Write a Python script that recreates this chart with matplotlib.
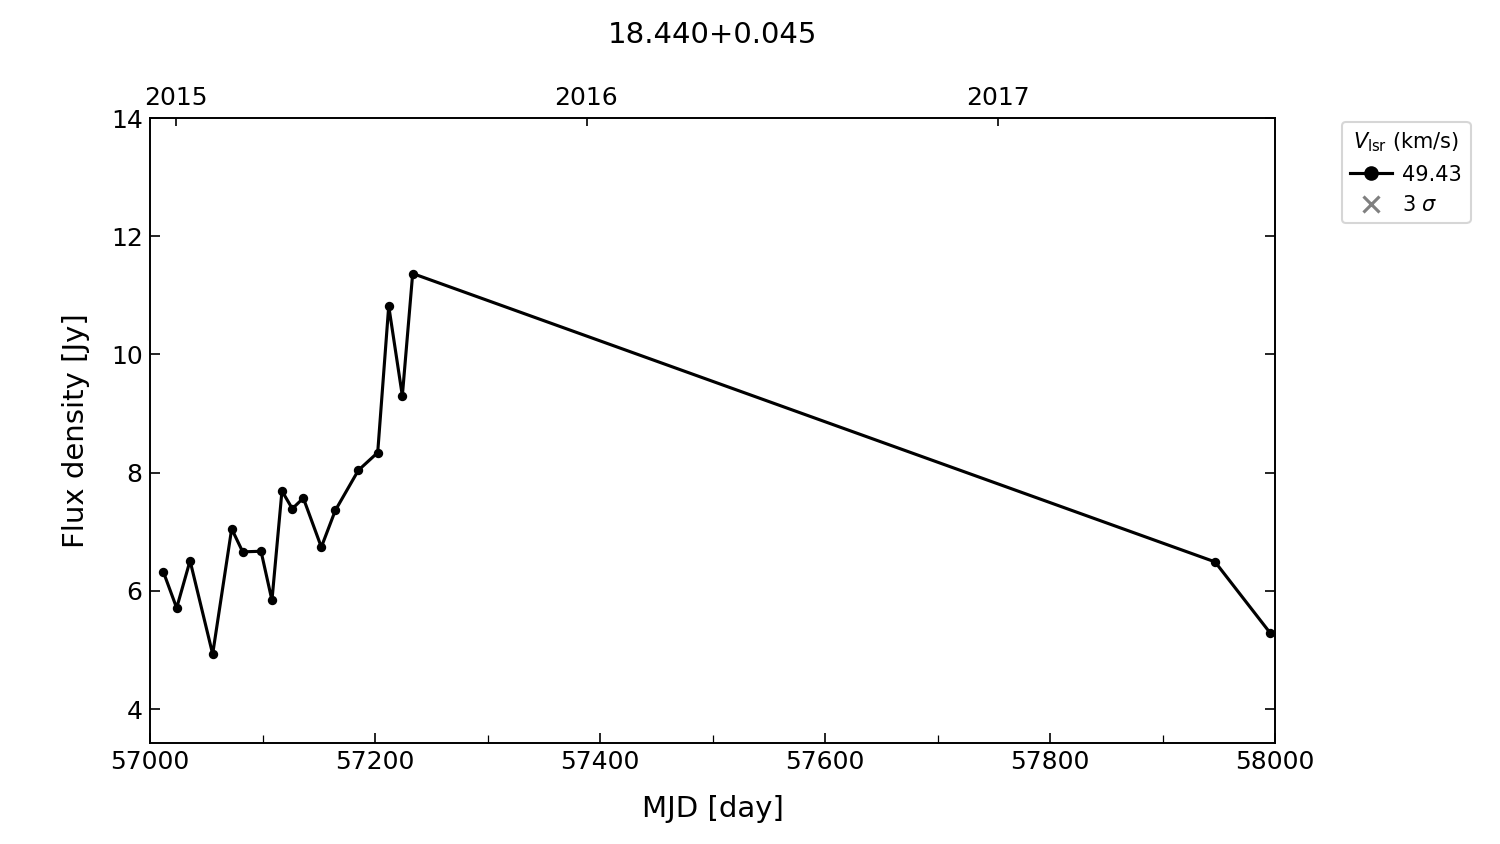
import matplotlib
matplotlib.use("Agg")
import matplotlib.pyplot as plt
from matplotlib.lines import Line2D

title = "18.440+0.045"
mjd = [57011.9, 57023.7, 57035.6, 57055.7, 57072.6, 57082.4, 57098.7, 57108.4,
       57117.3, 57126.5, 57136.3, 57152.3, 57164.7, 57185.2, 57202.4, 57212.2,
       57224.3, 57233.5, 57946.7, 57995.6]
flux = [6.32, 5.71, 6.51, 4.93, 7.05, 6.66, 6.67, 5.84,
        7.69, 7.39, 7.57, 6.74, 7.36, 8.04, 8.34, 10.82,
        9.30, 11.37, 6.49, 5.29]
vlsr_label = "49.43"
year_mjd = [57023, 57388, 57754]
year_labels = ["2015", "2016", "2017"]

fig = plt.figure(figsize=(10, 5.627), dpi=150)
ax = fig.add_axes([0.1, 0.12, 0.75, 0.74])
ax.plot(mjd, flux, color="black", lw=1.5, marker="o", ms=3.5)
ax.set_xlim(57000, 58000)
ax.set_ylim(3.43, 14)
ax.set_xticks(range(57000, 58001, 200))
ax.set_xticks(range(57100, 58000, 200), minor=True)
ax.set_yticks(range(4, 15, 2))
ax.tick_params(which="both", direction="in", right=True, labelsize=12)
ax.tick_params(which="major", length=5)
ax.tick_params(which="minor", length=4)
ax.set_xlabel("MJD [day]", fontsize=14, labelpad=10)
ax.set_ylabel("Flux density [Jy]", fontsize=14, labelpad=10)

ax2 = ax.twiny()
ax2.set_xlim(ax.get_xlim())
ax2.set_xticks(year_mjd)
ax2.set_xticklabels(year_labels)
ax2.tick_params(direction="in", labelsize=12, length=4, pad=4)
fig.text(0.475, 1 - 35 / 844, title, fontsize=14, ha="center", va="center")

handles = [Line2D([], [], color="black", lw=1.5, marker="o", ms=6),
           Line2D([], [], color="gray", lw=0, marker="x", ms=8, mew=1.5)]
ax.legend(handles, [vlsr_label, r"3 $\sigma$"], title=r"$V_{\rm lsr}$ (km/s)",
          loc="upper left", bbox_to_anchor=(1.0596, 0.9936), borderaxespad=0,
          fontsize=10, title_fontsize=10, handlelength=2, handletextpad=0.5,
          borderpad=0.4)
fig.savefig("out.png")
